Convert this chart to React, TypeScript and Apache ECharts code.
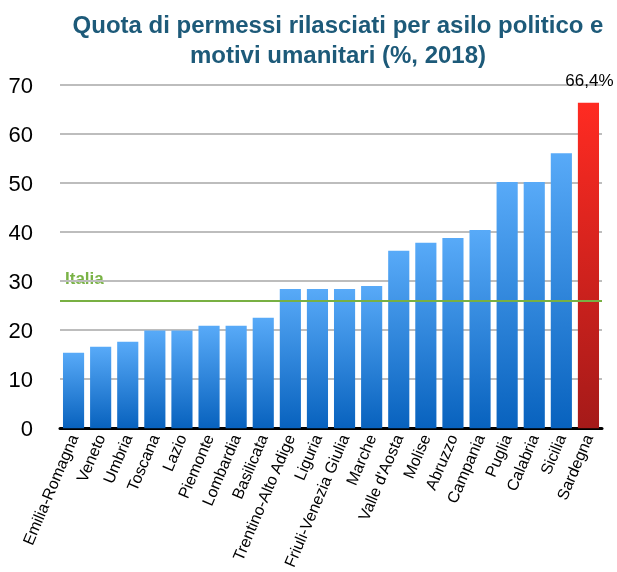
import React, { useEffect, useRef } from "react";
import * as echarts from "echarts";

const regions = [
  "Emilia-Romagna", "Veneto", "Umbria", "Toscana", "Lazio", "Piemonte", "Lombardia",
  "Basilicata", "Trentino-Alto Adige", "Liguria", "Friuli-Venezia Giulia", "Marche",
  "Valle d'Aosta", "Molise", "Abruzzo", "Campania", "Puglia", "Calabria", "Sicilia", "Sardegna",
];
const values = [15.4, 16.6, 17.6, 19.9, 19.9, 20.9, 20.9, 22.5, 28.4, 28.4, 28.4, 29.0, 36.2, 37.8, 38.8, 40.4, 50.2, 50.2, 56.1, 66.4];
const italiaValue = 26.0;
const highlightName = "Sardegna";
const highlightLabel = "66,4%";
const yTicks = [0, 10, 20, 30, 40, 50, 60, 70];

const blue = new echarts.graphic.LinearGradient(0, 0, 0, 1, [
  { offset: 0, color: "#58aaf8" },
  { offset: 1, color: "#0862be" },
]);
const red = new echarts.graphic.LinearGradient(0, 0, 0, 1, [
  { offset: 0, color: "#ff2b22" },
  { offset: 1, color: "#a51a19" },
]);

export default function App() {
  const ref = useRef<HTMLDivElement>(null);
  useEffect(() => {
    if (!ref.current) return;
    const chart = echarts.init(ref.current, null, { renderer: "svg" });
    const font = "'Liberation Sans', Arial, Helvetica, sans-serif";
    chart.setOption({
      animation: false,
      textStyle: { fontFamily: font },
      title: {
        text: "Quota di permessi rilasciati per asilo politico e\nmotivi umanitari (%, 2018)",
        left: 333,
        top: 4,
        textAlign: "center",
        textStyle: { color: "#1d5a79", fontSize: 24, fontWeight: "bold", lineHeight: 30, fontFamily: font },
      },
      grid: { left: 60, right: 15, top: 85, bottom: 143.5, containLabel: false },
      xAxis: {
        type: "category",
        data: regions,
        axisTick: { show: false },
        axisLine: { lineStyle: { color: "#000", width: 3 } },
        axisLabel: { rotate: 67, fontSize: 16, color: "#000", margin: 7, interval: 0, fontFamily: font },
      },
      yAxis: {
        type: "value",
        min: yTicks[0],
        max: yTicks[yTicks.length - 1],
        interval: 10,
        axisLine: { show: false },
        axisTick: { show: false },
        axisLabel: { fontSize: 22, color: "#000", margin: 27, fontFamily: font },
        splitLine: { lineStyle: { color: "#bdbdbd", width: 2 } },
      },
      series: [
        {
          type: "bar",
          barCategoryGap: "22%",
          data: values.map((v, i) =>
            regions[i] === highlightName
              ? {
                  value: v,
                  itemStyle: { color: red },
                  label: {
                    show: true,
                    position: "top",
                    distance: 14,
                    offset: [1, 0],
                    formatter: highlightLabel,
                    fontSize: 17,
                    color: "#000",
                    fontFamily: font,
                  },
                }
              : { value: v, itemStyle: { color: blue } }
          ),
          markLine: {
            silent: true,
            symbol: "none",
            lineStyle: { color: "#78b043", width: 2, type: "solid" },
            label: { show: false },
            data: [{ yAxis: italiaValue }],
          },
        },
      ],
      graphic: [
        {
          type: "text",
          left: 65,
          top: 270,
          style: { text: "Italia", fill: "#7ab346", font: "bold 17px " + font },
        },
      ],
    });
    return () => chart.dispose();
  }, []);
  return <div ref={ref} style={{ position: "fixed", left: 0, top: 0, width: 617, height: 572 }} />;
}
